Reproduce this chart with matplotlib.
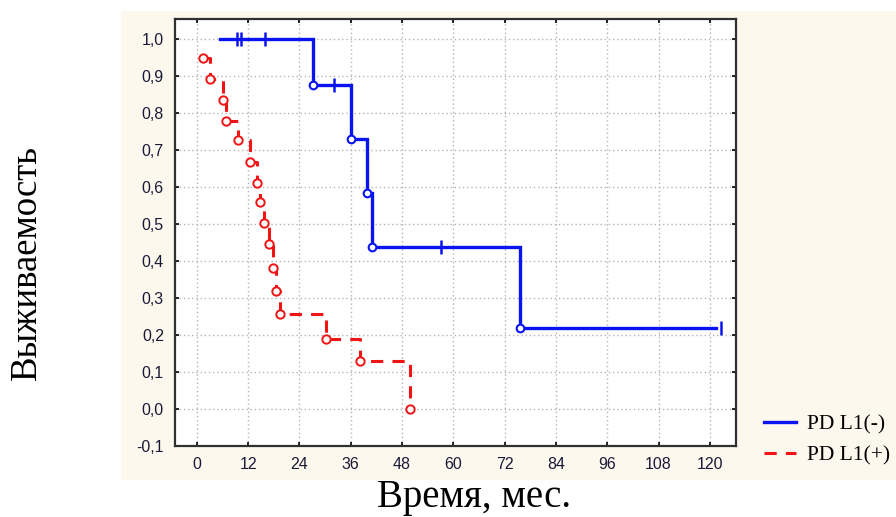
import matplotlib
matplotlib.use("Agg")
import matplotlib.pyplot as plt
from matplotlib.patches import Rectangle

# ---- data ----
blue_times = [5.5, 27.2, 36.0, 39.7, 40.9, 75.7, 121.5]
blue_surv = [1.0, 0.875, 0.729, 0.583, 0.438, 0.219, 0.219]
blue_event_t = [27.2, 36.0, 39.7, 40.9, 75.7]
blue_event_s = [0.875, 0.729, 0.583, 0.438, 0.219]
blue_cens_t = [9.3, 10.4, 15.9, 32.0, 57.2, 122.7]
blue_cens_s = [1.0, 1.0, 1.0, 0.875, 0.438, 0.219]

red_times = [1.5, 3.0, 6.2, 6.9, 9.7, 12.5, 14.0, 14.7, 15.7, 16.9, 17.9, 18.6, 19.4, 30.2, 38.1, 49.8]
red_surv = [0.948, 0.891, 0.835, 0.779, 0.727, 0.667, 0.612, 0.560, 0.502, 0.446, 0.380, 0.320, 0.256, 0.189, 0.129, 0.0]

x_ticks = [0, 12, 24, 36, 48, 60, 72, 84, 96, 108, 120]
y_ticks = [-0.1, 0.0, 0.1, 0.2, 0.3, 0.4, 0.5, 0.6, 0.7, 0.8, 0.9, 1.0]
y_tick_labels = ['-0,1', '0,0', '0,1', '0,2', '0,3', '0,4', '0,5', '0,6', '0,7', '0,8', '0,9', '1,0']
series_labels = ['PD L1(-)', 'PD L1(+)']
x_label = 'Время, мес.'
y_label = 'Выживаемость'

# ---- figure ----
fig = plt.figure(figsize=(8.96, 5.17), dpi=100)
fig.patch.set_facecolor('white')
bg = Rectangle((121/896, 1-480/517), 1-121/896, (480-11)/517,
               transform=fig.transFigure, facecolor='#FCF8EE',
               edgecolor='none', zorder=-10)
fig.add_artist(bg)

ax = fig.add_axes([175/896, 1-446/517, (736-175)/896, (446-19)/517])
ax.set_zorder(5)
ax.set_facecolor('white')

blue = '#0A14F0'
red = '#F01414'

lb, = ax.step(blue_times, blue_surv, where='post', color=blue, lw=2.4,
              label=series_labels[0], zorder=3, solid_joinstyle='miter')
ax.plot(blue_event_t, blue_event_s, 'o', ms=5.5, mfc='white', mec=blue, mew=1.5, zorder=4)
ax.plot(blue_cens_t, blue_cens_s, '|', ms=10, mec=blue, mew=1.8, zorder=4)

lr, = ax.step(red_times, red_surv, where='post', color=red, lw=2.2,
              dashes=(4.0, 3.0), label=series_labels[1], zorder=3)
ax.plot(red_times, red_surv, 'o', ms=6, mfc='white', mec=red, mew=1.4, zorder=4)

ax.set_xlim(-5.1, 126.1)
ax.set_ylim(-0.1, 1.054)
ax.set_xticks(x_ticks)
ax.set_yticks(y_ticks)
ax.set_yticklabels(y_tick_labels)

ax.grid(True, color='#B4B4B4', linestyle=(0, (1, 2)), lw=1.0, zorder=1)
for s in ax.spines.values():
    s.set_color('#303030')
    s.set_linewidth(1.6)
ax.tick_params(direction='in', length=3, width=1.2, top=True, right=True,
               labelsize=11.5, labelcolor='#1A1A38', pad=8)
for lab in ax.get_xticklabels() + ax.get_yticklabels():
    lab.set_fontfamily('Liberation Sans')

fig.text(27/896, 1-263/517, y_label, rotation=90, ha='center', va='center',
         fontsize=26.5, family='Liberation Serif', color='black')
fig.text(474/896, 1.5/517, x_label, ha='center', va='bottom',
         fontsize=28, family='Liberation Serif', color='black')

leg = fig.legend(handles=[lb, lr], labels=series_labels, loc='upper left',
                 bbox_to_anchor=(764/896, 1-414/517), frameon=False,
                 prop={'family': 'Liberation Serif', 'size': 15.5},
                 borderaxespad=0, borderpad=0,
                 handlelength=1.5, handletextpad=0.5, labelspacing=0.55)

fig.savefig('out.png', dpi=100, facecolor='white')
